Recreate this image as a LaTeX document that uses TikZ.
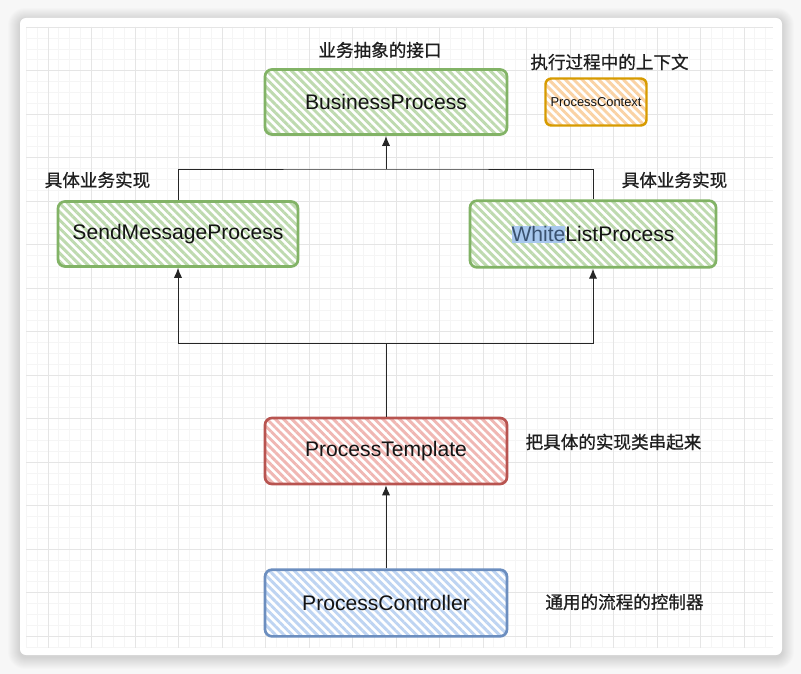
\documentclass[tikz,border=0pt]{standalone}
\usepackage{fontspec}
\setmainfont{Liberation Sans}
\newfontfamily\cjk[RawFeature={embolden=0.8}]{Noto Sans CJK SC}
\usepackage{tikz}
\usetikzlibrary{arrows.meta,positioning,patterns.meta}
\definecolor{gstroke}{HTML}{82B366}
\definecolor{gfill}{HTML}{BEDAAF}
\definecolor{rstroke}{HTML}{B85450}
\definecolor{rfill}{HTML}{F0B7B3}
\definecolor{bstroke}{HTML}{6C8EBF}
\definecolor{bfill}{HTML}{BED4F2}
\definecolor{ostroke}{HTML}{D79B00}
\definecolor{ofill}{HTML}{FAD2A4}
\definecolor{selblue}{HTML}{A8C8EE}
\definecolor{seltext}{HTML}{3A5270}
\definecolor{bgcol}{HTML}{F7F7F7}

\begin{document}
\begin{tikzpicture}[
    x=0.03cm, y=-0.03cm,
    node distance=3.96cm,
    >={Latex[length=8.5pt,width=7pt]},
    font=\fontsize{18}{20}\selectfont,
    process/.style={
		rectangle,
		rounded corners=6pt,
		line width=2.3pt,
		text centered,
		text=black!92,
		minimum width=7.26cm,
		minimum height=1.95cm,
		preaction={fill=white},
		pattern={Lines[angle=-45,distance=5pt,line width=2.5pt]}
	},
	greenbox/.style={process, draw=gstroke, pattern color=gfill},
	redbox/.style={process, draw=rstroke, pattern color=rfill},
	bluebox/.style={process, draw=bstroke, pattern color=bfill},
	orangebox/.style={
		process,
		draw=ostroke,
		pattern color=ofill,
		rounded corners=5pt,
		line width=2.1pt,
		minimum width=3.03cm,
		minimum height=1.41cm,
		font=\fontsize{11}{13}\selectfont
	},
	note/.style={
		font=\cjk\fontsize{15}{17}\selectfont,
		text=black!88
	},
	link/.style={
		line width=0.8pt,
		draw=black!85
	},
	minorgrid/.style={draw=black!4, line width=0.4pt},
	majorgrid/.style={draw=black!10, line width=0.6pt}
  ]

 \useasboundingbox (0,0) rectangle (801,674);
 \fill [bgcol] (0,0) rectangle (801,674);

% // The card
 \foreach \k in {1,...,12}
   \fill [black, opacity=0.011, rounded corners={5pt+0.8*\k pt}]
     ({20-\k},{18-\k+2}) rectangle ({782+\k},{655+\k+2});
 \path [fill=white, rounded corners=5pt] (20,18) rectangle (782,655);

% // The grid
 \begin{scope}
 \clip (26,27) rectangle (773,648);
 \foreach \i in {0,...,68} \draw [minorgrid] ({26+10.875*\i},27) -- ({26+10.875*\i},648);
 \foreach \j in {0,...,57} \draw [minorgrid] (26,{27+10.875*\j}) -- (773,{27+10.875*\j});
 \foreach \i in {0,...,16} \draw [majorgrid] ({48+43.5*\i},27) -- ({48+43.5*\i},648);
 \foreach \j in {0,...,14} \draw [majorgrid] (26,{27+43.5*\j}) -- (773,{27+43.5*\j});
 \end{scope}

% // The processes
 \node [greenbox] (bp) at (386,102) {BusinessProcess};
 \node [orangebox, right of=bp, xshift=2.34cm] (ctx) {ProcessContext};
 \node [greenbox, below of=bp, xshift=-6.24cm, minimum width=7.2cm] (smp) {SendMessageProcess};
 \node [greenbox, below of=bp, xshift=6.21cm, minimum width=7.38cm, minimum height=2cm] (wlp)
 {{\fboxsep=0pt\colorbox{selblue}{\rule[-1pt]{0pt}{14.5pt}\textcolor{seltext}{White}}}ListProcess};
 \node [redbox, below of=bp, yshift=-6.51cm, minimum height=1.98cm] (tpl) {ProcessTemplate};
 \node [bluebox, below of=tpl, yshift=-0.6cm, minimum height=2cm] (ctl) {ProcessController};

% // The notes
 \node [note] (lbp) at (380,50) {业务抽象的接口};
 \node [note] (lctx) at (609.5,62) {执行过程中的上下文};
 \node [note] (lsmp) at (97.5,180) {具体业务实现};
 \node [note] (lwlp) at (674.5,180) {具体业务实现};
 \node [note] (ltpl) at (613.5,442) {把具体的实现类串起来};
 \node [note] (lctl) at (624.5,602) {通用的流程的控制器};

% // The links
 \coordinate (jtop) at (386,169);
 \coordinate (jbot) at (386,343);

 \draw [link] (smp.north) |- (jtop) -| (wlp.north);
 \draw [link, ->] (jtop) -- (bp.south);
 \draw [link, ->] (jbot) -| (smp.south);
 \draw [link, ->] (jbot) -| (wlp.south);
 \draw [link] (tpl.north) -- (jbot);
 \draw [link, ->] (ctl) -- (tpl);

\end{tikzpicture}
\end{document}
